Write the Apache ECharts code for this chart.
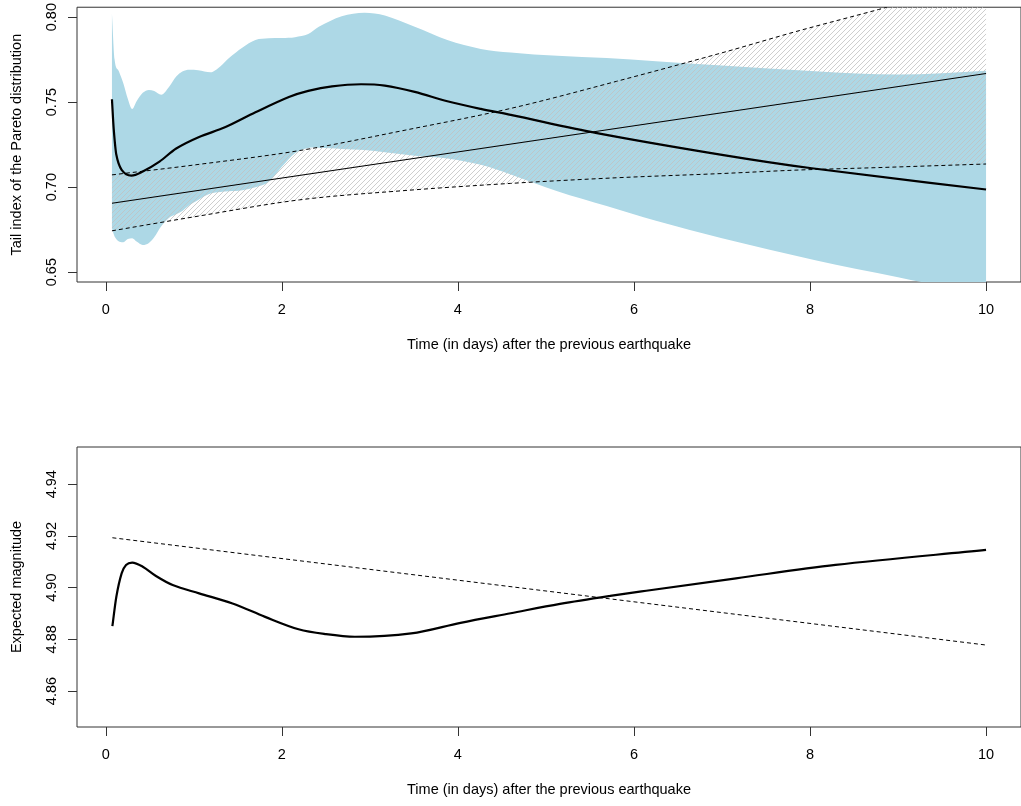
<!DOCTYPE html>
<html>
<head>
<meta charset="utf-8">
<script src="https://cdn.jsdelivr.net/npm/echarts@6/dist/echarts.min.js"></script>
<style>html,body{margin:0;padding:0;background:#fff}#c{width:1021px;height:806px}</style>
</head>
<body>
<div id="c"></div>
<script>
// ---- tick labels ----
const xTicks = [0, 2, 4, 6, 8, 10];
const yTicksTop = [0.65, 0.70, 0.75, 0.80];
const yTicksBottom = [4.86, 4.88, 4.90, 4.92, 4.94];

// ---- top panel: light-blue band ----
const xBand = [0.07,0.10,0.15,0.20,0.25,0.30,0.35,0.42,0.49,0.55,0.63,0.72,0.80,0.87,0.95,1.05,1.19,1.30,1.40,1.55,1.70,1.85,2.00,2.15,2.30,2.42,2.68,2.94,3.17,3.51,3.88,4.26,4.60,5.13,5.69,6.25,7.00,8.06,9.00,10.0];
const bandUpper = [0.802,0.775,0.768,0.761,0.752,0.7459,0.7505,0.7555,0.7572,0.7565,0.7543,0.7590,0.7650,0.7680,0.7691,0.7688,0.7676,0.7710,0.7759,0.7820,0.7865,0.7875,0.7877,0.7882,0.7900,0.7943,0.8005,0.8026,0.8010,0.7943,0.7865,0.7813,0.7792,0.7772,0.7759,0.7740,0.7715,0.7682,0.7662,0.7685];
const bandLower = [0.676,0.671,0.668,0.6676,0.6695,0.6700,0.668,0.6660,0.6672,0.6705,0.6770,0.6820,0.6840,0.6860,0.6895,0.6925,0.6962,0.6972,0.6976,0.6982,0.7000,0.7030,0.7120,0.7200,0.7230,0.7232,0.7225,0.7218,0.7205,0.7185,0.7169,0.7131,0.7075,0.6976,0.6889,0.6802,0.6700,0.6570,0.6470,0.6364];

// ---- top panel: main (thick) curve ----
const xMain = [0.07,0.09,0.12,0.18,0.29,0.42,0.61,0.80,1.06,1.36,1.70,2.08,2.30,2.57,2.90,3.17,3.51,3.88,4.26,4.60,5.58,7.00,8.02,10.0];
const tailMain = [0.7517,0.7343,0.7190,0.7102,0.7068,0.7092,0.7150,0.7227,0.7295,0.7353,0.7440,0.7530,0.7566,0.7593,0.7605,0.7597,0.7560,0.7505,0.7460,0.7425,0.7318,0.7190,0.7111,0.6986];

// ---- top panel: linear fit and its dashed band ----
const xLinear = [0.07, 10.0];
const tailLinear = [0.6905, 0.7668];
const xCI = [0.07,1.0,2.2,3.4,4.6,5.8,7.0,7.84,8.78,10.0];
const ciUpper = [0.7072,0.7130,0.7215,0.7335,0.7463,0.7622,0.7790,0.7915,0.8045,0.8220];
const ciLower = [0.6743,0.6825,0.6925,0.6980,0.7022,0.7055,0.7080,0.7100,0.7115,0.7136];

// ---- bottom panel ----
const xMag = [0.075,0.12,0.18,0.23,0.30,0.42,0.57,0.76,1.06,1.44,1.81,2.19,2.50,2.83,3.47,4.03,4.60,5.16,5.73,6.14,7.16,8.29,10.0];
const magMain = [4.8851,4.8965,4.9055,4.9088,4.9097,4.9081,4.9045,4.9010,4.8978,4.8939,4.8887,4.8839,4.8820,4.8810,4.8823,4.8864,4.8901,4.8937,4.8968,4.8988,4.9036,4.9088,4.9146];
const xMagLinear = [0.075, 10.0];
const magLinear = [4.9193, 4.8778];

const FONT = 'Liberation Sans, Arial, Helvetica, sans-serif';
const FS = 14.5;

// cubic Hermite through pixel points (smooth, monotone in x)
function hermite(ctx, pts, first) {
  const n = pts.length;
  const m = [];
  for (let i = 0; i < n; i++) {
    if (i === 0) m[i] = (pts[1][1] - pts[0][1]) / (pts[1][0] - pts[0][0]);
    else if (i === n - 1) m[i] = (pts[n-1][1] - pts[n-2][1]) / (pts[n-1][0] - pts[n-2][0]);
    else {
      const d0 = (pts[i][1] - pts[i-1][1]) / (pts[i][0] - pts[i-1][0]);
      const d1 = (pts[i+1][1] - pts[i][1]) / (pts[i+1][0] - pts[i][0]);
      m[i] = (d0 * d1 <= 0) ? 0 : (pts[i+1][1] - pts[i-1][1]) / (pts[i+1][0] - pts[i-1][0]);
    }
  }
  if (first) ctx.moveTo(pts[0][0], pts[0][1]); else ctx.lineTo(pts[0][0], pts[0][1]);
  for (let i = 0; i < n - 1; i++) {
    const h = pts[i+1][0] - pts[i][0];
    ctx.bezierCurveTo(pts[i][0] + h / 3, pts[i][1] + m[i] * h / 3,
                      pts[i+1][0] - h / 3, pts[i+1][1] - m[i+1] * h / 3,
                      pts[i+1][0], pts[i+1][1]);
  }
}
echarts.graphic.registerShape('bandShape', echarts.graphic.extendShape({
  shape: { upper: [], lower: [] },
  buildPath: function (ctx, shape) {
    if (!shape.upper.length) return;
    hermite(ctx, shape.upper, true);
    hermite(ctx, shape.lower.slice().reverse(), false);
    ctx.closePath();
  }
}));
echarts.graphic.registerShape('curveShape', echarts.graphic.extendShape({
  shape: { points: [] },
  buildPath: function (ctx, shape) {
    if (shape.points.length < 2) return;
    hermite(ctx, shape.points, true);
  }
}));

// hatch pattern
const pat = document.createElement('canvas');
pat.width = 5; pat.height = 5;
(function () {
  const g = pat.getContext('2d');
  g.strokeStyle = '#c2c2c2';
  g.lineWidth = 0.8;
  g.beginPath();
  g.moveTo(0, 5); g.lineTo(5, 0);
  g.moveTo(-1, 1); g.lineTo(1, -1);
  g.moveTo(4, 6); g.lineTo(6, 4);
  g.stroke();
})();

function bandSeries(xs, up, lo, fill, z, gi) {
  return {
    type: 'custom', xAxisIndex: gi, yAxisIndex: gi, z: z, clip: true, silent: true,
    data: [[xs[0], up[0]]],
    renderItem: function (params, api) {
      return {
        type: 'bandShape',
        shape: {
          upper: xs.map((x, i) => api.coord([x, up[i]])),
          lower: xs.map((x, i) => api.coord([x, lo[i]]))
        },
        style: { fill: fill, stroke: null }
      };
    }
  };
}
function curveSeries(xs, ys, gi, width, dashed, z) {
  return {
    type: 'custom', xAxisIndex: gi, yAxisIndex: gi, z: z, clip: true, silent: true,
    data: [[xs[0], ys[0]]],
    renderItem: function (params, api) {
      return {
        type: 'curveShape',
        shape: { points: xs.map((x, i) => api.coord([x, ys[i]])) },
        style: { fill: null, stroke: '#000', lineWidth: width, lineDash: dashed ? [4, 3] : null, lineCap: 'butt', lineJoin: 'round' }
      };
    }
  };
}
function xAxisCfg(gi) {
  return {
    type: 'value', gridIndex: gi, min: -0.327, max: 10.397,
    name: 'Time (in days) after the previous earthquake', nameLocation: 'middle', nameGap: 55,
    nameTextStyle: { color: '#000', fontFamily: FONT, fontSize: FS },
    axisLine: { show: false, onZero: false }, splitLine: { show: false },
    axisTick: { show: true, customValues: xTicks, length: 9, lineStyle: { color: '#333', width: 1 } },
    axisLabel: { customValues: xTicks, margin: 20, color: '#000', fontFamily: FONT, fontSize: FS }
  };
}
function yAxisCfg(gi, min, max, ticks, name) {
  return {
    type: 'value', gridIndex: gi, min: min, max: max,
    name: name, nameLocation: 'middle', nameGap: 53, nameRotate: 90,
    nameTextStyle: { color: '#000', fontFamily: FONT, fontSize: FS },
    axisLine: { show: false, onZero: false }, splitLine: { show: false },
    axisTick: { show: true, customValues: ticks, length: 9, lineStyle: { color: '#333', width: 1 } },
    axisLabel: { customValues: ticks, margin: 18, rotate: 90, color: '#000', fontFamily: FONT, fontSize: FS,
                 formatter: v => v.toFixed(2) }
  };
}

const chart = echarts.init(document.getElementById('c'), null, { renderer: 'canvas' });
chart.setOption({
  animation: false,
  backgroundColor: '#fff',
  grid: [
    { left: 77, top: 3, width: 950, height: 279, show: true, borderColor: '#333', borderWidth: 1, backgroundColor: 'transparent' },
    { left: 77, top: 447, width: 950, height: 280, show: true, borderColor: '#333', borderWidth: 1, backgroundColor: 'transparent' }
  ],
  xAxis: [xAxisCfg(0), xAxisCfg(1)],
  yAxis: [
    yAxisCfg(0, 0.6442, 0.8058, yTicksTop, 'Tail index of the Pareto distribution'),
    yAxisCfg(1, 4.8461, 4.9544, yTicksBottom, 'Expected magnitude')
  ],
  series: [
    bandSeries(xBand, bandUpper, bandLower, '#ADD8E6', 1, 0),
    bandSeries(xCI, ciUpper, ciLower, { image: pat, repeat: 'repeat' }, 2, 0),
    curveSeries(xCI, ciUpper, 0, 1, true, 3),
    curveSeries(xCI, ciLower, 0, 1, true, 3),
    curveSeries(xLinear, tailLinear, 0, 1.1, false, 3),
    curveSeries(xMain, tailMain, 0, 2.2, false, 4),
    curveSeries(xMag, magMain, 1, 2.2, false, 4),
    curveSeries(xMagLinear, magLinear, 1, 1, true, 3)
  ]
});
</script>
</body>
</html>
